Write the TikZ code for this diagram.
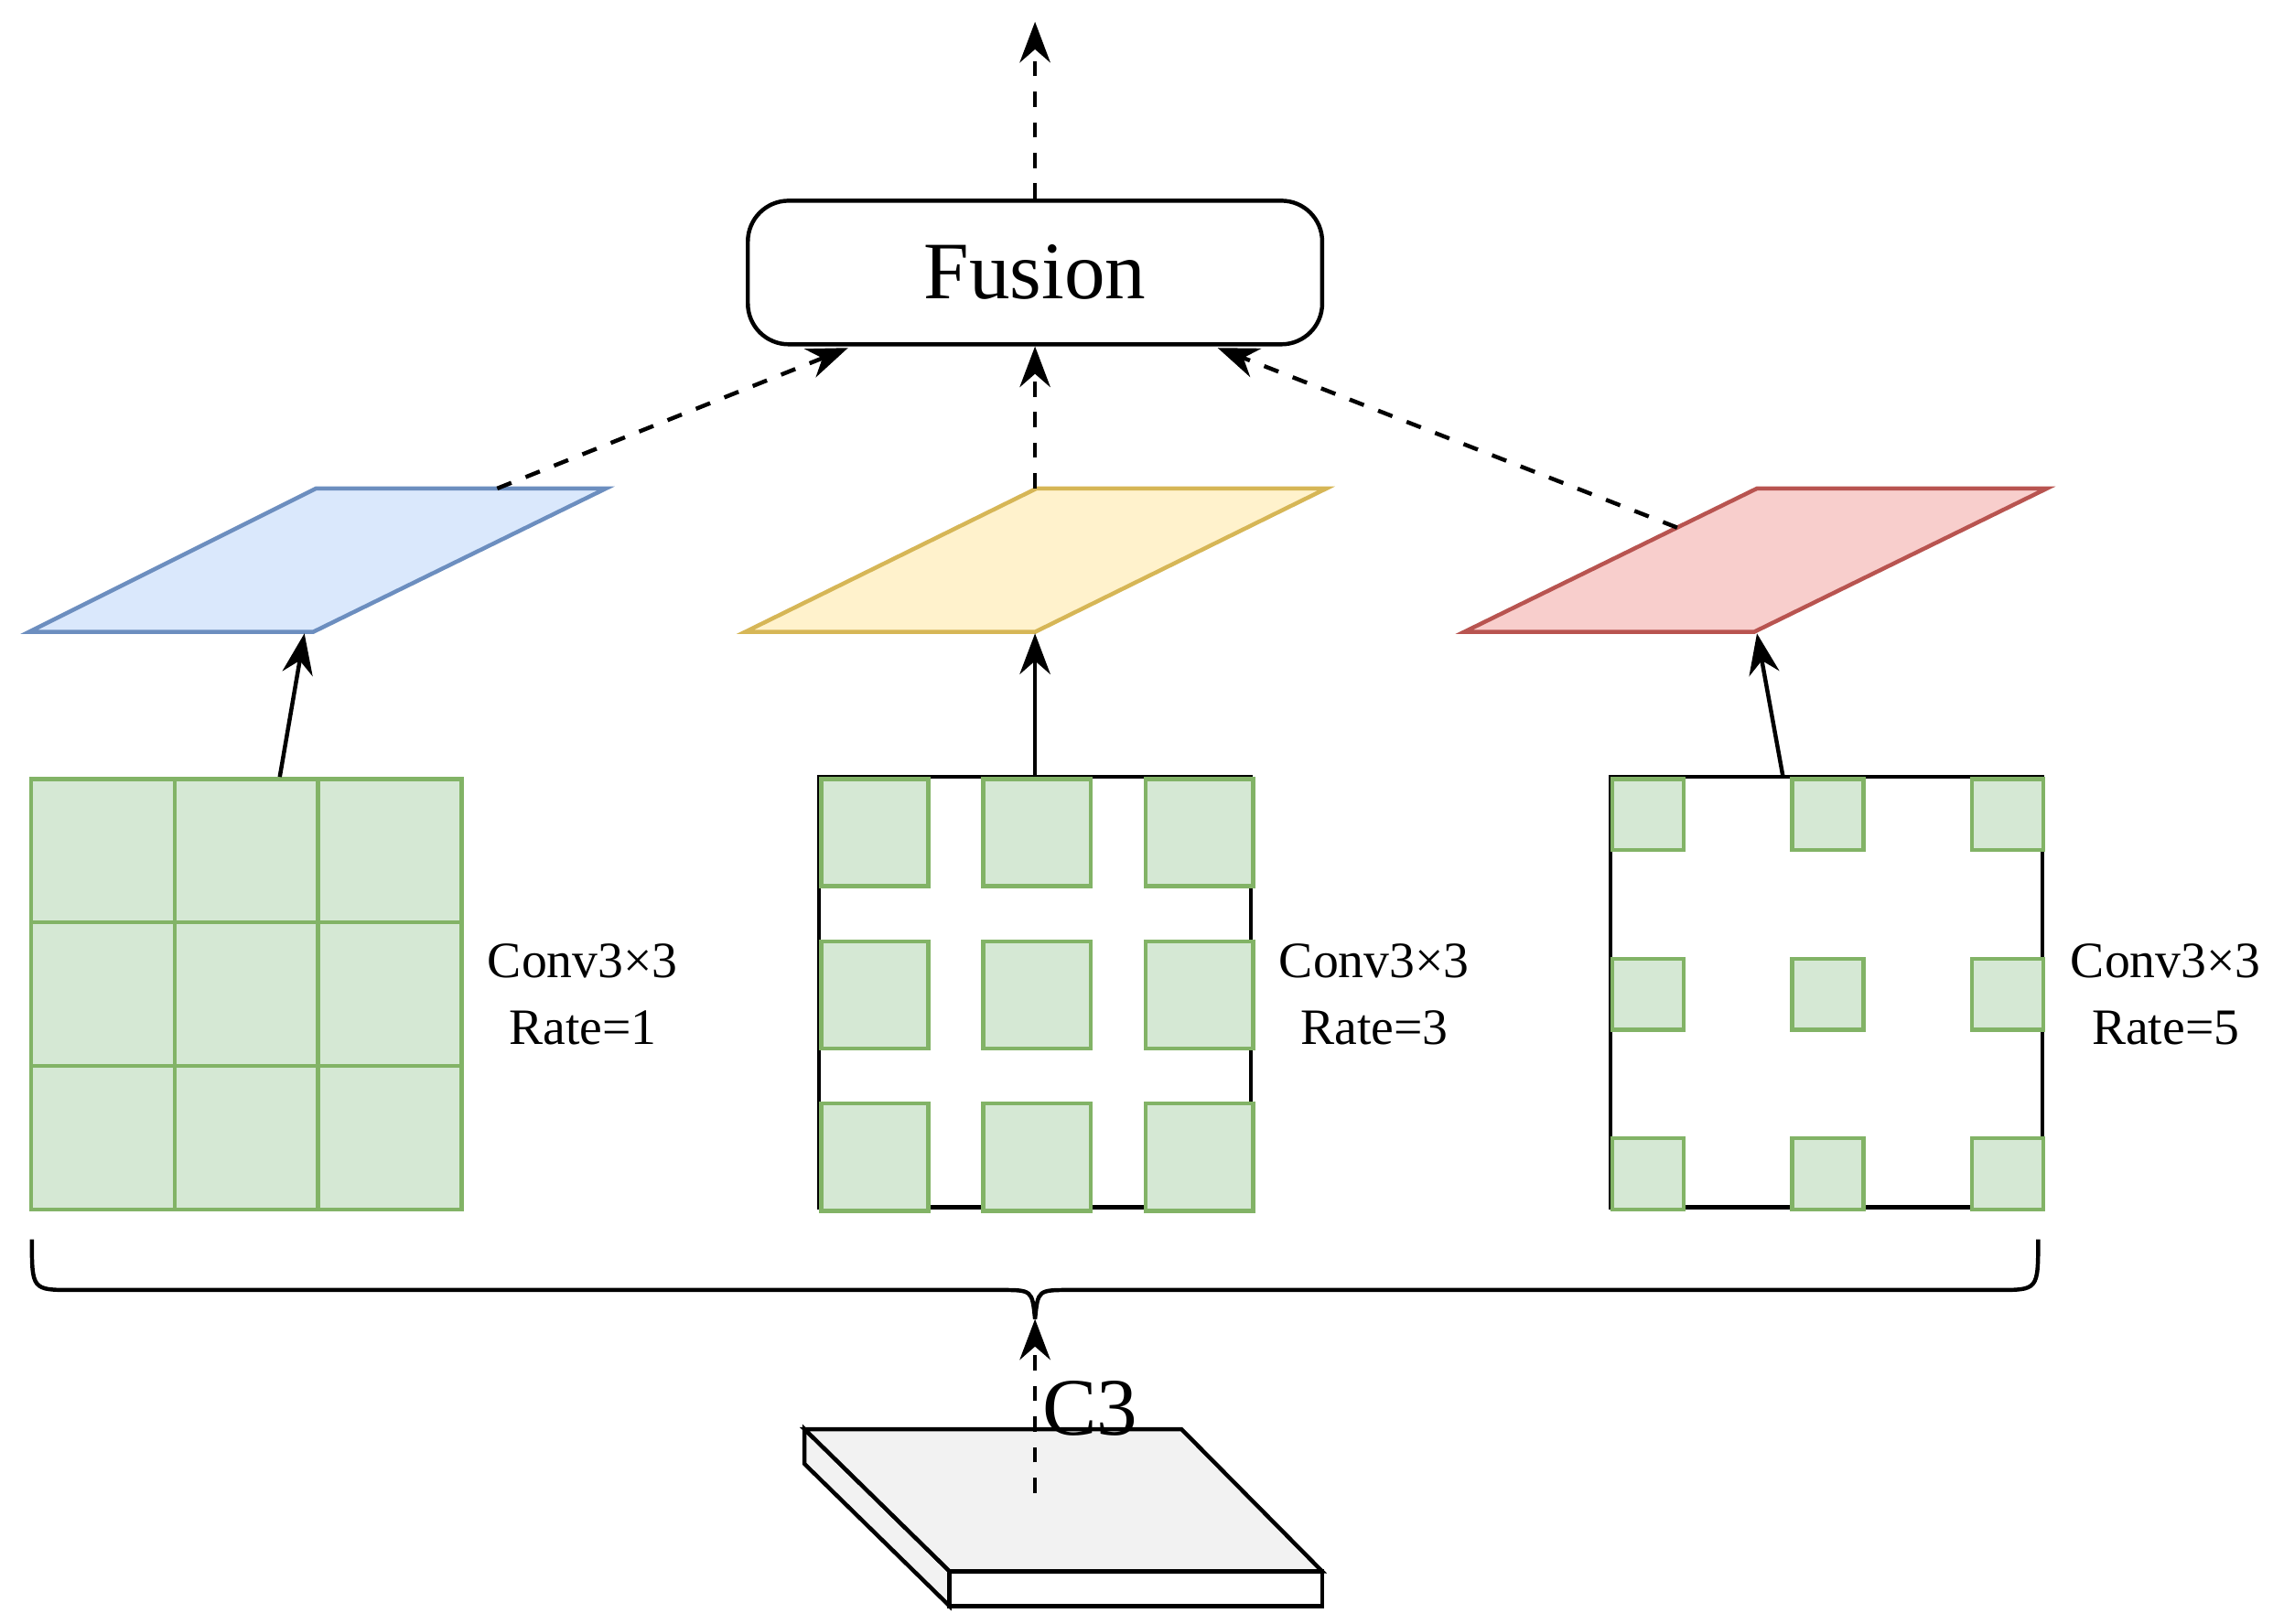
\documentclass[tikz,border=0pt]{standalone}
\usepackage{fontspec}
\setmainfont{Liberation Serif}
\usetikzlibrary{positioning, arrows.meta}
\definecolor{cellgreen}{RGB}{213,232,212}
\definecolor{cellline}{RGB}{130,179,102}
\definecolor{lightblue}{RGB}{218,232,252}
\definecolor{blueline}{RGB}{108,142,191}
\definecolor{lightyellow}{RGB}{255,242,204}
\definecolor{yellowline}{RGB}{214,182,86}
\definecolor{lightred}{RGB}{248,206,204}
\definecolor{redline}{RGB}{184,84,80}
\definecolor{slab}{RGB}{242,242,242}

\begin{document}
\begin{tikzpicture}[x=0.01cm, y=-0.01cm,
    cell/.style={draw=cellline, fill=cellgreen, thick, inner sep=0pt, anchor=north west},
    arrow/.style={-{Stealth[length=8pt,width=6pt]}, thick},
    dasharrow/.style={arrow, dashed},
    label/.style={align=center, font=\fontsize{10pt}{13pt}\selectfont}
]
    \useasboundingbox (0,0) rectangle (1568,1120);

    % Fusion
    \node[draw, thick, rounded corners=8pt, minimum width=3.96cm, minimum height=0.99cm,
          font=\fontsize{16pt}{18pt}\selectfont] (fusion) at (714,188) {Fusion};
    \coordinate (out) at (714,15);
    \draw[dasharrow] (fusion.north) -- (out);

    % Feature maps
    \filldraw[draw=blueline, fill=lightblue, thick] (20,436) -- (216,436) -- (418,337) -- (218,337) -- cycle;
    \filldraw[draw=yellowline, fill=lightyellow, thick] (514,436) -- (714,436) -- (915,337) -- (715,337) -- cycle;
    \filldraw[draw=redline, fill=lightred, thick] (1010,436) -- (1210,436) -- (1412,337) -- (1212,337) -- cycle;
    \coordinate (mapA) at (343,337);
    \coordinate (mapB) at (714,337);
    \coordinate (mapC) at (1157,364);
    \coordinate (mapAb) at (210,437);
    \coordinate (mapBb) at (714,437);
    \coordinate (mapCb) at (1212,437);
    \draw[dasharrow] (mapA) -- (585,240);
    \draw[dasharrow] (mapB) -- (fusion.south);
    \draw[dasharrow] (mapC) -- (840,240);

    % Kernel rate 1
    \foreach \i in {0,1,2}
      \foreach \j in {0,1,2}
        \node[cell, minimum size=0.99cm] at (20+99*\i,536+99*\j) {};
    \coordinate (kA) at (193,536);
    \node[label] (labA) at (402,686) {Conv3×3\\Rate=1};

    % Kernel rate 3
    \draw[thick] (565,536) rectangle (863,833);
    \foreach \i in {0,1,2}
      \foreach \j in {0,1,2}
        \node[cell, minimum size=0.74cm] at (565+112*\i,536+112*\j) {};
    \coordinate (kB) at (714,536);
    \node[label] (labB) at (948,686) {Conv3×3\\Rate=3};

    % Kernel rate 5
    \draw[thick] (1111,536) rectangle (1409,833);
    \foreach \i in {0,1,2}
      \foreach \j in {0,1,2}
        \node[cell, minimum size=0.49cm] at (1111+124*\i,536+124*\j) {};
    \coordinate (kC) at (1230,536);
    \node[label] (labC) at (1494,686) {Conv3×3\\Rate=5};

    \draw[arrow] (kA) -- (mapAb);
    \draw[arrow] (kB) -- (mapBb);
    \draw[arrow] (kC) -- (mapCb);

    % Brace
    \coordinate (tip) at (714,910);
    \draw[thick] (22,855) .. controls (22,890) .. (50,890) -- (690,890)
        .. controls (712,890) .. (tip) .. controls (716,890) .. (738,890)
        -- (1378,890) .. controls (1406,890) .. (1406,855);

    % C3
    \filldraw[thick, fill=slab] (555,986) -- (655,1084) -- (655,1108) -- (555,1010) -- cycle;
    \filldraw[thick, fill=white] (655,1084) rectangle (912,1108);
    \filldraw[thick, fill=slab] (555,986) -- (815,986) -- (912,1084) -- (655,1084) -- cycle;
    \coordinate (c3) at (714,1030);
    \node[font=\fontsize{16pt}{18pt}\selectfont] (c3lab) at (752,972) {C3};
    \draw[dasharrow] (c3) -- (tip);
\end{tikzpicture}
\end{document}
